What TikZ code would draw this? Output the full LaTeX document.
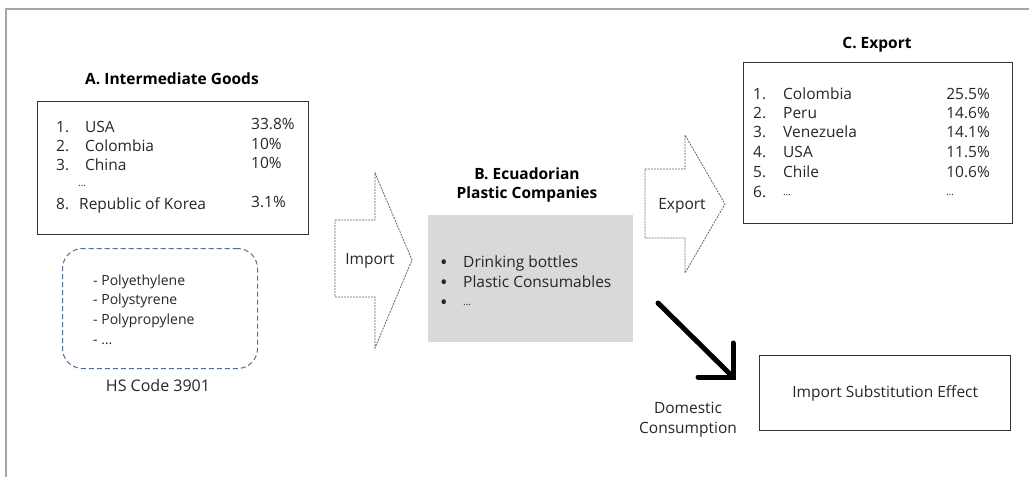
\documentclass[tikz,border=0pt]{standalone}
\usepackage{fontspec}
\setmainfont{Open Sans}
\definecolor{framegray}{HTML}{A6A6A6}
\definecolor{boxline}{HTML}{333333}
\definecolor{fillgray}{HTML}{D9D9D9}
\definecolor{dashblue}{HTML}{4F6F9F}
\definecolor{arrowline}{HTML}{666666}
\definecolor{txtcol}{HTML}{262626}
\begin{document}
\begin{tikzpicture}[x=1pt,y=-1pt,
  txt/.style={inner sep=0pt, text=txtcol, font=\fontsize{15.5}{19}\selectfont, text height=11pt, text depth=3pt},
  small/.style={inner sep=0pt, text=txtcol, font=\fontsize{14}{16}\selectfont, text height=10pt, text depth=3pt},
  dots/.style={inner sep=0pt, text=txtcol, font=\fontsize{10}{12}\selectfont},
  bul/.style={inner sep=0pt, text=txtcol, font=\fontsize{20}{20}\selectfont},
  title/.style={inner sep=0pt, text=black, font=\bfseries\fontsize{15.5}{19}\selectfont, align=center},
  panel/.style={draw=boxline, line width=1.4pt, inner sep=0pt, anchor=north west},
  blockarrow/.style={draw=arrowline, line width=0.8pt, dash pattern=on 2pt off 1pt, line join=miter},
]
\useasboundingbox (0,0) rectangle (1029,477);

% page frame (top and left edges)
\draw[framegray, line width=1.3pt] (6,477) -- (6,9) -- (1029,9);

% ---------- A. Intermediate Goods ----------
\node[title] (titleA) at (172,79) {A. Intermediate Goods};
\node[panel, minimum width=271pt, minimum height=133pt] (boxA) at (37,101) {};
\node[txt, anchor=west] (a1n) at (56,128) {1.};
\node[txt, anchor=west] (a1c) at (85,128) {USA};
\node[txt, anchor=west] (a1p) at (251,125) {33.8\%};
\node[txt, anchor=west] (a2n) at (56,147) {2.};
\node[txt, anchor=west] (a2c) at (85,147) {Colombia};
\node[txt, anchor=west] (a2p) at (251,145) {10\%};
\node[txt, anchor=west] (a3n) at (56,166) {3.};
\node[txt, anchor=west] (a3c) at (85,166) {China};
\node[txt, anchor=west] (a3p) at (251,164) {10\%};
\node[dots, anchor=west] (a4c) at (78,186) {…};
\node[txt, anchor=west] (a8n) at (56,205) {8.};
\node[txt, anchor=west] (a8c) at (79,205) {Republic of Korea};
\node[txt, anchor=west] (a8p) at (251,203) {3.1\%};

% HS code group
\node[draw=dashblue, line width=1pt, dash pattern=on 5pt off 3pt, rounded corners=20pt,
      minimum width=195pt, minimum height=120pt, inner sep=0pt, anchor=north west] (hsbox) at (62,248) {};
\node[small, anchor=west] (h1) at (93,282) {- Polyethylene};
\node[small, anchor=west] (h2) at (93,301) {- Polystyrene};
\node[small, anchor=west] (h3) at (93,321) {- Polypropylene};
\node[small, anchor=west] (h4) at (93,341) {- …};
\node[txt, font=\fontsize{16}{19}\selectfont] (hslabel) at (158,387) {HS Code 3901};

% ---------- Import block arrow ----------
\draw[blockarrow] (335,220) -- (375,220) -- (375,173) -- (412,260) -- (375,348)
      -- (375,297) -- (335,297) -- cycle;
\node[txt] (importlbl) at (370,260) {Import};

% ---------- B. Ecuadorian Plastic Companies ----------
\node[title] (titleB) at (527,185) {B. Ecuadorian\\Plastic Companies};
\node[fill=fillgray, inner sep=0pt, minimum width=205pt, minimum height=127pt, anchor=north west] (boxB) at (428,215) {};
\node[bul] (b1d) at (444,265) {•};
\node[txt, anchor=west] (b1t) at (463,263) {Drinking bottles};
\node[bul] (b2d) at (444,285) {•};
\node[txt, anchor=west] (b2t) at (463,283) {Plastic Consumables};
\node[bul] (b3d) at (444,305) {•};
\node[dots, anchor=west] (b3t) at (463,305) {…};

% ---------- Export block arrow ----------
\draw[blockarrow] (645,169) -- (685,169) -- (685,135) -- (725,204) -- (685,273)
      -- (685,238) -- (645,238) -- cycle;
\node[txt] (exportlbl) at (682,205) {Export};

% ---------- C. Export ----------
\node[title] (titleC) at (877,45) {C. Export};
\node[panel, minimum width=269pt, minimum height=161pt] (boxC) at (743,62) {};
\foreach \i/\c/\p/\yy in {1/Colombia/25.5/95, 2/Peru/14.6/114, 3/Venezuela/14.1/133,
                          4/USA/11.5/153, 5/Chile/10.6/173} {
  \node[txt, anchor=west] (c\i n) at (753,\yy) {\i.};
  \node[txt, anchor=west] (c\i c) at (783,\yy) {\c};
  \node[txt, anchor=east] (c\i p) at (990,\yy) {\p\%};
}
\node[txt, anchor=west] (c6n) at (753,193) {6.};
\node[dots, anchor=west] (c6c) at (783,195) {…};
\node[dots, anchor=west] (c6p) at (946,195) {…};

% ---------- Domestic consumption ----------
\coordinate (dstart) at (658,303);
\coordinate (dtip) at (733,377);
\coordinate (dup) at (733,343);
\coordinate (dleft) at (698,377);
\draw[black, line width=5pt, line cap=round] (dstart) -- (dtip);
\draw[black, line width=5pt, line cap=round, line join=miter] (dup) -- (dtip) -- (dleft);
\node[inner sep=0pt, text=txtcol, align=center, font=\fontsize{15.5}{20}\selectfont] (domestic) at (688,420) {Domestic\\Consumption};

% ---------- Import substitution ----------
\node[panel, minimum width=251pt, minimum height=75pt] (subst) at (759,355) {};
\node[txt] (substlbl) at (subst.center) {Import Substitution Effect};
\end{tikzpicture}
\end{document}
